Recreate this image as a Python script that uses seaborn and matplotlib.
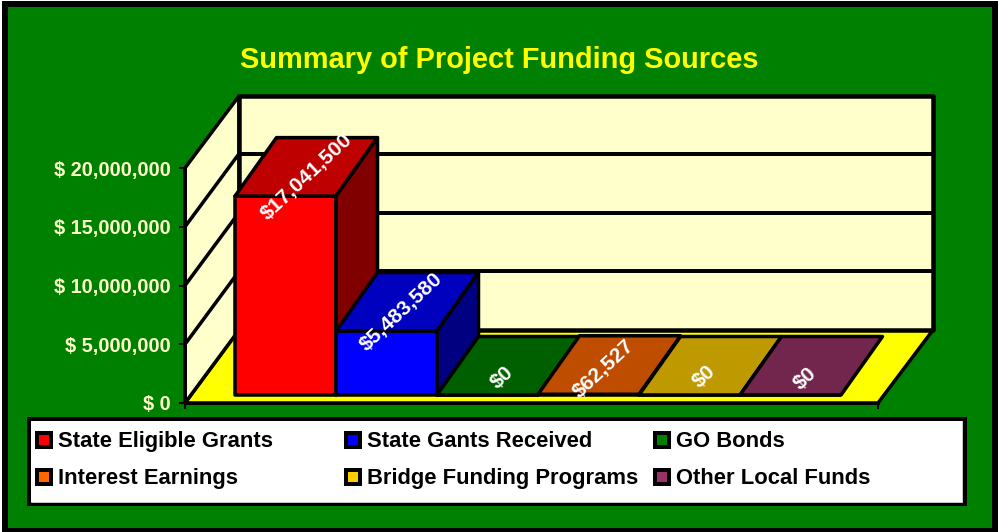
import matplotlib
matplotlib.use("Agg")
import matplotlib.pyplot as plt
import matplotlib.colors as mcolors
from matplotlib.lines import Line2D
from matplotlib.patches import Polygon, Rectangle
from matplotlib.ticker import FuncFormatter
from matplotlib.transforms import Affine2D
import pandas as pd
import seaborn as sns

sources = [
    "State Eligible Grants",
    "State Gants Received",
    "GO Bonds",
    "Interest Earnings",
    "Bridge Funding Programs",
    "Other Local Funds",
]
amounts = [17041500, 5483580, 0, 62527, 0, 0]
bar_colors = ["#FF0000", "#0000FF", "#008000", "#FF6600", "#FFCC00", "#993366"]
y_ticks = [0, 5000000, 10000000, 15000000, 20000000]
title = "Summary of Project Funding Sources"

W, H = 998, 532
GREEN = "#008000"
PALE = "#FFFFCC"
FONT = "Liberation Sans"
px = 1 / 100 * 72  # one pixel in points

sns.set_style("white")
plt.rcParams["font.family"] = FONT

fig = plt.figure(figsize=(W / 100, H / 100), dpi=100, facecolor="white")
to_fig = Affine2D().scale(1 / W, -1 / H).translate(0, 1) + fig.transFigure


def axes_box(left, top, right, bottom):
    return [left / W, 1 - bottom / H, (right - left) / W, (bottom - top) / H]


fig.add_artist(Rectangle((5, 4), 990, 526.5, transform=to_fig, facecolor=GREEN,
                         edgecolor="black", linewidth=6 * px, zorder=-5))

fig.text(499.5 / W, 1 - 68 / H, title, color="#FFFF00", fontsize=29 * px,
         fontweight="bold", ha="center", va="baseline")

# walls and floor sit on the axis that carries the ticks
wall = fig.add_axes(axes_box(185, 168, 878, 403), zorder=1)
wall.patch.set_alpha(0)
wall.set_xlim(0, 1)
wall.set_ylim(0, 20000000)
wall.set_xticks([0, 1], labels=["", ""])
wall.set_yticks(y_ticks)
wall.yaxis.set_major_formatter(FuncFormatter(lambda v, _: f"$ {v:,.0f}"))
wall.tick_params(axis="both", length=6 * px, width=2 * px, color="black", direction="out",
                 left=True, bottom=True)
wall.tick_params(axis="y", labelcolor=PALE, labelsize=20 * px, pad=8 * px)
for lab in wall.get_yticklabels():
    lab.set_fontweight("bold")
sns.despine(ax=wall, top=True, right=True)
for side in ["left", "bottom"]:
    wall.spines[side].set_color("black")
    wall.spines[side].set_linewidth(3 * px)


def level(v):
    return v * 235 / 20000000


def panel(points, color, lw, z=1):
    wall.add_patch(Polygon(points, closed=True, transform=to_fig, clip_on=False,
                           facecolor=color, edgecolor="black", linewidth=lw * px,
                           joinstyle="round", zorder=z))


panel([(185, 403), (878, 403), (933, 330), (239, 330)], "#FFFF00", 3.5)
panel([(185, 403), (239, 330), (239, 96), (185, 168)], PALE, 3.5)
panel([(239, 96), (933, 96), (933, 330), (239, 330)], PALE, 4.5)
for v in y_ticks[1:-1]:
    wall.plot([239, 933], [330 - level(v)] * 2, color="black", lw=4 * px,
              transform=to_fig, clip_on=False, zorder=1.5)
for v in y_ticks[1:-1]:
    wall.plot([185, 239], [403 - level(v), 330 - level(v)], color="black", lw=3.5 * px,
              transform=to_fig, clip_on=False, zorder=1.5)

# bars go on their own axis, slightly in front of the wall axis
ax = fig.add_axes(axes_box(235, 395 - 233.4, 841, 395), zorder=2)
ax.patch.set_alpha(0)
df = pd.DataFrame({"source": sources, "amount": amounts})
sns.barplot(data=df, x="source", y="amount", hue="source", palette=bar_colors, width=1,
            saturation=1, legend=False, edgecolor="black", linewidth=3.5 * px, ax=ax)
ax.set_xlim(-0.5, 5.5)
ax.set_ylim(0, 20000000)
ax.axis("off")

depth_x = 41.5 / 101
depth_y = 58.5 / 233.4 * 20000000

label_shift = [(21, 19), (15, 19), (15, 17), (15, 25), (15, 18), (15, 16)]
bars = list(ax.patches)
for i, bar in enumerate(bars):
    x0, x1 = bar.get_x(), bar.get_x() + bar.get_width()
    top = bar.get_height()
    base = mcolors.to_rgb(bar_colors[i])
    bar.set_clip_on(False)
    bar.set_zorder(3 + i)
    bar.set_joinstyle("round")
    ax.add_patch(Polygon([(x0, top), (x1, top), (x1 + depth_x, top + depth_y), (x0 + depth_x, top + depth_y)],
                         facecolor=[c * 0.75 for c in base], edgecolor="black", linewidth=3.5 * px,
                         joinstyle="round", clip_on=False, zorder=3 + i))
    if top > 100000:
        ax.add_patch(Polygon([(x1, 0), (x1 + depth_x, depth_y), (x1 + depth_x, top + depth_y), (x1, top)],
                             facecolor=[c * 0.5 for c in base], edgecolor="black", linewidth=3.5 * px,
                             joinstyle="round", clip_on=False, zorder=3 + i))
    ax.annotate(f"${amounts[i]:,.0f}", (i, top), xytext=label_shift[i], textcoords="offset pixels",
                color="white", fontweight="bold", fontsize=21 * px, rotation=43,
                rotation_mode="anchor", ha="center", va="center", zorder=20, annotation_clip=False)

# legend box
fig.add_artist(Rectangle((29, 419), 936, 85, transform=to_fig, facecolor="white",
                         edgecolor="black", linewidth=4 * px, zorder=5))
fig.add_artist(Line2D([31, 962.5, 962.5], [501.5, 501.5, 421], transform=to_fig, color="#C8C8C8",
                      lw=1 * px, zorder=5.5))
for i, name in enumerate(sources):
    col, row = i % 3, i // 3
    x = 35 + col * 309
    y = 431 + row * 37
    fig.add_artist(Rectangle((x + 2, y + 2), 14, 14, transform=to_fig, facecolor=bar_colors[i],
                             edgecolor="black", linewidth=4 * px, zorder=6))
    fig.text((x + 23) / W, 1 - (y + 16) / H, name, color="black", fontsize=22 * px,
             fontweight="bold", ha="left", va="baseline", zorder=6)

fig.savefig("out.png", dpi=100)
